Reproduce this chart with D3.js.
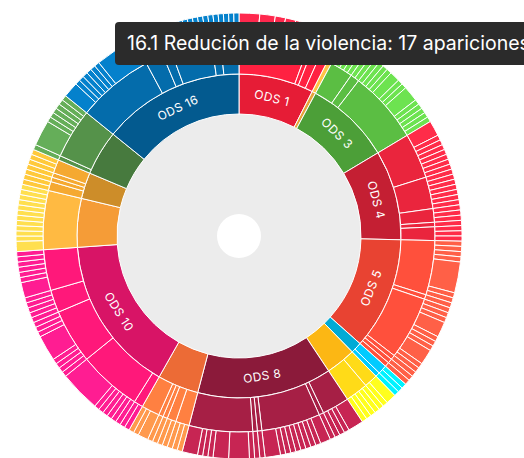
<!DOCTYPE html>
<html>
<head>
<meta charset="utf-8">
<script src="https://cdn.jsdelivr.net/npm/d3@7"></script>
<style>
	html, body { margin: 0; padding: 0; background: #fff; overflow: hidden; }
	#chart { position: relative; width: 524px; height: 458px; overflow: hidden; }
	.tooltip {
		position: absolute;
		left: 115px;
		top: 22px;
		height: 43px;
		line-height: 43px;
		padding: 0 12px;
		background: #2b2b2b;
		color: #fff;
		border-radius: 4px;
		font-family: Inter, "Noto Sans", sans-serif;
		font-size: 19.5px;
		white-space: nowrap;
	}
	.label { font-family: Inter, "Noto Sans", sans-serif; font-size: 12px; letter-spacing: 0.4px; fill: #fff; }
</style>
</head>
<body>
<div id="chart"></div>
<script>
// ODS (goals) shown in the inner ring
var odsNames = ["ODS 1", "ODS 2", "ODS 3", "ODS 4", "ODS 5", "ODS 6", "ODS 7", "ODS 8",
	"ODS 9", "ODS 10", "ODS 11", "ODS 12", "ODS 13", "ODS 16"];
var odsColors = ["#e61c36", "#e5a43a", "#4c9f38", "#c41f33", "#e84332", "#00aad5", "#fcb714",
	"#8b1a3a", "#ec6b36", "#d81466", "#f59c37", "#cd8d29", "#477a3e", "#035a8f"];

// metas per ODS: each inner array = apariciones per documento (outer ring)
var ods1 = [[4, 3, 2, 2, 1, 1, 1, 1], [1], [1, 1], [1, 1]];
var ods2 = [[1]];
var ods3 = [[1, 1, 1, 1, 1], [1, 1], [1, 1, 1, 1, 2, 1, 1, 3, 1, 1, 1, 1, 1]];
var ods4 = [[3, 1, 1, 1, 1, 1, 1, 1], [1, 1, 1, 1, 1, 1, 1], [1, 1, 1], [1], [1, 1, 1]];
var ods5 = [[1, 1, 1, 1, 6, 1, 1], [1], [1, 1, 1, 3, 1, 1, 1, 3, 1, 1], [1], [1], [1]];
var ods6 = [[1, 1], [1]];
var ods7 = [[2, 1], [1, 1, 1, 1, 1]];
var ods8 = [[3, 1, 1, 1], [1], [2, 1, 1, 1, 1, 1, 1, 1, 1, 3], [1], [1], [1, 4, 3, 1, 1, 1, 3]];
var ods9 = [[1, 1, 1], [1, 1], [1], [1], [2, 1, 1]];
var ods10 = [[1, 1], [1, 1, 1, 1, 1, 1, 8], [1, 1, 1, 1, 5, 1, 1, 1], [1, 1, 1, 1, 1], [3, 1, 1, 1, 1, 1, 1]];
var ods11 = [[2, 1, 1, 1, 1, 1, 1, 1, 1, 1, 1, 1]];
var ods12 = [[1, 1], [1], [1], [1, 1, 1]];
var ods13 = [[1], [5, 1, 1, 1, 1, 1, 1]];
var ods16 = [[3, 1, 1, 1, 1, 1, 1, 8], [1, 1, 1, 1], [1, 1], [2, 1, 1, 1, 1, 1, 1, 1], [1, 1], [1, 1, 1, 1]];
var odsMetas = [ods1, ods2, ods3, ods4, ods5, ods6, ods7, ods8, ods9, ods10, ods11, ods12, ods13, ods16];

// ring radii: hole, grey disk, ODS, metas, documentos
var ringRadii = [22, 122, 162, 196, 223];

var tooltipText = "16.1 Redución de la violencia: 17 apariciones";

var width = 524, height = 458;
var cx = 239, cy = 236;

// build the hierarchy
var data = {
	name: "root",
	children: odsNames.map(function (name, i) {
		var num = name.replace("ODS ", "");
		return {
			name: name,
			color: odsColors[i],
			children: odsMetas[i].map(function (docs, j) {
				return {
					name: num + "." + (j + 1),
					children: docs.map(function (v, k) { return {name: num + "." + (j + 1) + "-" + k, value: v}; })
				};
			})
		};
	})
};

var root = d3.hierarchy(data).sum(function (d) { return d.value || 0; });
d3.partition().size([2 * Math.PI, 4])(root);

var radius = d3.scaleLinear().domain([0, 1, 2, 3, 4]).range(ringRadii);

var arc = d3.arc()
	.startAngle(function (d) { return d.x0; })
	.endAngle(function (d) { return d.x1; })
	.innerRadius(function (d) { return radius(d.y0); })
	.outerRadius(function (d) { return radius(d.y1); });

var svg = d3.select("#chart").append("svg")
	.attr("width", width)
	.attr("height", height)
	.append("g")
	.attr("transform", "translate(" + cx + "," + cy + ")");

function fillFor(d) {
	if (d.depth === 0) return "#ececec";
	var ods = d.ancestors().find(function (a) { return a.depth === 1; });
	return d3.color(ods.data.color).brighter(0.5 * (d.depth - 1)).formatHex();
}

svg.selectAll("path")
	.data(root.descendants())
	.enter().append("path")
	.attr("d", arc)
	.attr("fill", fillFor)
	.attr("stroke", function (d) { return d.depth === 0 ? "none" : "#fff"; })
	.attr("stroke-width", 1);

// ODS labels, following the ring and kept upright
svg.selectAll("text.label")
	.data(root.children.filter(function (d) { return d.x1 - d.x0 > 0.4; }))
	.enter().append("text")
	.attr("class", "label")
	.attr("text-anchor", "middle")
	.attr("dy", "0.35em")
	.attr("transform", function (d) {
		var a = (d.x0 + d.x1) / 2;
		var deg = a * 180 / Math.PI;
		var r = (radius(d.y0) + radius(d.y1)) / 2;
		var rot = deg < 90 ? deg : (deg < 270 ? deg - 180 : deg - 360);
		return "translate(" + (r * Math.sin(a)) + "," + (-r * Math.cos(a)) + ") rotate(" + rot + ")";
	})
	.text(function (d) { return d.data.name; });

// tooltip for the hovered meta
d3.select("#chart").append("div")
	.attr("class", "tooltip")
	.text(tooltipText);
</script>
</body>
</html>
